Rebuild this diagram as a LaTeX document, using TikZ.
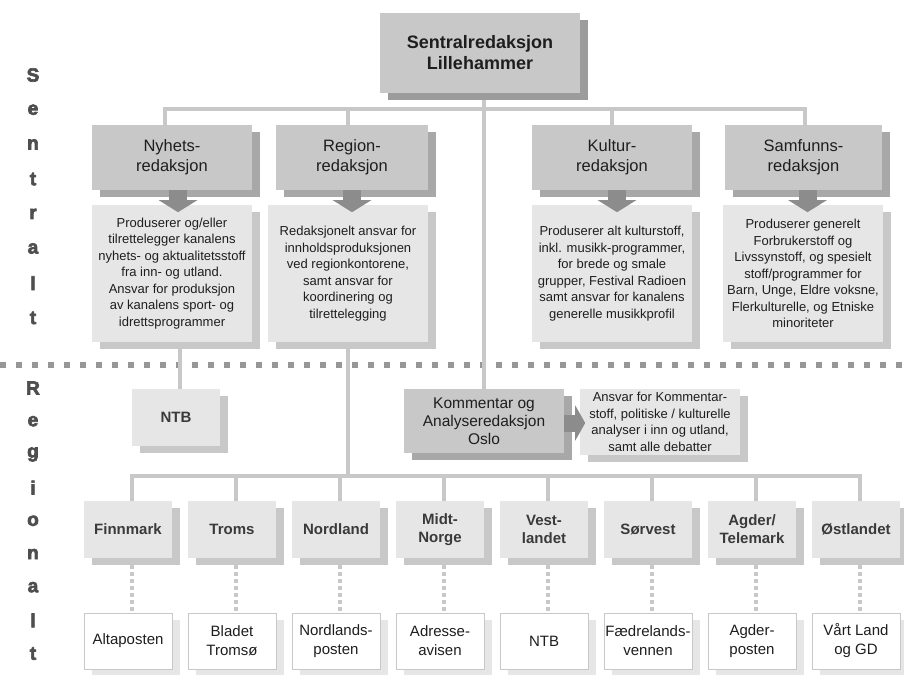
\documentclass[tikz,border=0pt]{standalone}
\usepackage{fontspec}
\setmainfont{Liberation Sans}
\newfontfamily\heavyfont[FakeBold=3.5]{Liberation Sans}
\usetikzlibrary{arrows.meta}
\usetikzlibrary{shadows}
\usetikzlibrary{calc}
\pgfdeclarelayer{bg}
\pgfsetlayers{bg,main}
\definecolor{boxgray}{HTML}{C8C8C8}
\definecolor{deptshade}{HTML}{A8A8A8}
\definecolor{topshade}{HTML}{9C9C9C}
\definecolor{palegray}{HTML}{E6E6E6}
\definecolor{linegray}{HTML}{C8C8C8}
\definecolor{arrowgray}{HTML}{8C8C8C}
\definecolor{sepgray}{HTML}{969696}
\definecolor{textdark}{HTML}{1E1E1E}
\definecolor{regtext}{HTML}{3A3A3A}
\definecolor{lettergray}{HTML}{4E4E4E}
\tikzset{castshadow/.style = {drop shadow={shadow xshift=8pt, shadow yshift=-7pt,
                                           fill=#1, opacity=1}}}
\tikzset{topbox/.style = {fill=boxgray, castshadow=topshade, inner sep=0,
                          minimum width=200pt, minimum height=80pt, align=center,
                          text=textdark, font=\fontsize{18}{21}\selectfont\bfseries}}
\tikzset{deptbox/.style = {fill=boxgray, castshadow=deptshade, inner sep=0,
                           minimum width=#1, minimum height=65pt, align=center,
                           text=textdark, font=\fontsize{16.5}{20}\selectfont}}
\tikzset{infobox/.style = {fill=palegray, castshadow=boxgray, inner sep=0,
                           minimum width=160pt, minimum height=137pt, align=center,
                           text=textdark, font=\fontsize{13}{16.5}\selectfont}}
\tikzset{regbox/.style = {fill=palegray, castshadow=boxgray, inner sep=0,
                          minimum width=88pt, minimum height=57pt, align=center,
                          text=regtext, font=\fontsize{15}{18}\selectfont\bfseries}}
\tikzset{paperbox/.style = {fill=white, draw=boxgray, line width=0.8pt,
                            castshadow=palegray, inner sep=0,
                            minimum width=88pt, minimum height=56pt, align=center,
                            text=textdark, font=\fontsize{15}{19}\selectfont}}
\tikzset{sideletter/.style = {inner sep=0, text=lettergray,
                              font=\heavyfont\fontsize{19}{19}\selectfont\bfseries}}
\tikzset{conn/.style = {draw=linegray, line width=4pt}}
\tikzset{dotconn/.style = {draw=linegray, line width=4pt, dash pattern=on 4pt off 3pt}}
\tikzset{sepline/.style = {draw=sepgray, line width=6pt, dash pattern=on 6pt off 10pt}}
\tikzset{downarrow/.style = {draw=arrowgray, line width=18pt,
                             -{Triangle[width=38pt, length=12pt]}}}
\tikzset{sidearrow/.style = {draw=arrowgray, line width=17pt,
                             -{Triangle[width=35pt, length=10pt]}}}

\begin{document}
\begin{tikzpicture}[x=1pt, y=-1pt]
    \useasboundingbox (0,0) rectangle (904,674);

    \foreach \c [count=\i from 0] in {S,e,n,t,r,a,l,t} {
      \node [sideletter] (s\i) at (33, 75+34.7*\i) {\c};
    }
    \foreach \c [count=\i from 0] in {R,e,g,i,o,n,a,l,t} {
      \node [sideletter] (g\i) at (33, 388+33.2*\i) {\c};
    }

    % sentral
    \node [topbox] (top) at (480, 53) {Sentralredaksjon\\Lillehammer};

    \node [deptbox=160pt] (nyh) at (172, 157.5) {Nyhets-\\redaksjon};
    \node [deptbox=152pt] (reg) at (352, 157.5) {Region-\\redaksjon};
    \node [deptbox=160pt] (kul) at (612, 157.5) {Kultur-\\redaksjon};
    \node [deptbox=157pt] (sam) at (803.5, 157.5) {Samfunns-\\redaksjon};

    \node [infobox] (nyhtx) at (172, 273.5) {Produserer og/eller\\tilrettelegger kanalens\\nyhets- og aktualitetsstoff\\fra inn- og utland.\\Ansvar for produksjon\\av kanalens sport- og\\idrettsprogrammer};
    \node [infobox] (regtx) at (348, 273.5) {Redaksjonelt ansvar for\\innholdsproduksjonen\\ved regionkontorene,\\samt ansvar for\\koordinering og\\tilrettelegging};
    \node [infobox] (kultx) at (612, 273.5) {Produserer alt kulturstoff,\\inkl. musikk-programmer,\\for brede og smale\\grupper, Festival Radioen\\samt ansvar for kanalens\\generelle musikkprofil};
    \node [infobox] (samtx) at (803, 273.5) {Produserer generelt\\Forbrukerstoff og\\Livssynstoff, og spesielt\\stoff/programmer for\\Barn, Unge, Eldre voksne,\\Flerkulturelle, og Etniske\\minoriteter};

    \draw [downarrow] ([xshift=6]nyh.south) -- ++(0, 22);
    \draw [downarrow] (reg.south) -- ++(0, 22);
    \draw [downarrow] ([xshift=5]kul.south) -- ++(0, 22);
    \draw [downarrow] ([xshift=4]sam.south) -- ++(0, 22);

    % regional
    \node [regbox] (ntb) at (176, 417.5) {NTB};
    \node [deptbox=160pt, minimum height=64pt, font=\fontsize{15.5}{18}\selectfont]
      (kom) at (484, 421) {Kommentar og\\Analyseredaksjon\\Oslo};
    \node [infobox, minimum height=66pt, font=\fontsize{13}{16.5}\selectfont]
      (komtx) at (660, 422) {Ansvar for Kommentar-\\stoff, politiske / kulturelle\\analyser i inn og utland,\\samt alle debatter};
    \draw [sidearrow] ([yshift=-2]kom.east) -- ++(21, 0);

    \foreach \n/\t/\p [count=\i from 0] in {fin/Finnmark/Altaposten,
        tro/Troms/{Bladet\\Tromsø}, nor/Nordland/{Nordlands-\\posten},
        mid/{Midt-\\Norge}/{Adresse-\\avisen}, ves/{Vest-\\landet}/NTB,
        sor/Sørvest/{Fædrelands-\\vennen}, agd/{Agder/\\Telemark}/{Agder-\\posten},
        ost/Østlandet/{Vårt Land\\og GD}} {
      \node [regbox] (\n) at (128+104*\i, 529.5) {\t};
      \node [paperbox] (p\n) at (128+104*\i, 641) {\p};
      \draw [dotconn] ([xshift=4]\n.south) -- ([xshift=4]p\n.north);
    }

    \begin{pgfonlayer}{bg}
      \draw [sepline] (0, 365) -- (904, 365);
      \coordinate (bus) at (484, 109);
      \coordinate (bus2) at (484, 476);
      \draw [conn] ([xshift=-7]nyh.north) |- (bus) -| ([xshift=1.5]sam.north);
      \draw [conn] ([xshift=-4]reg.north) -- ([xshift=-4]reg.north |- bus);
      \draw [conn] (kul.north) -- (kul.north |- bus);
      \draw [conn] (top.south -| kom.north) -- (kom.north);
      \draw [conn] ([xshift=4]ntb.north) -- ([xshift=4]ntb.north |- nyhtx.south);
      \draw [conn] (regtx.south) -- (regtx.south |- bus2);
      \draw [conn] ([xshift=4]fin.north) |- (bus2) -| ([xshift=4]ost.north);
      \foreach \n in {tro,nor,mid,ves,sor,agd} {
        \draw [conn] ([xshift=4]\n.north) -- ([xshift=4]\n.north |- bus2);
      }
    \end{pgfonlayer}
\end{tikzpicture}
\end{document}
